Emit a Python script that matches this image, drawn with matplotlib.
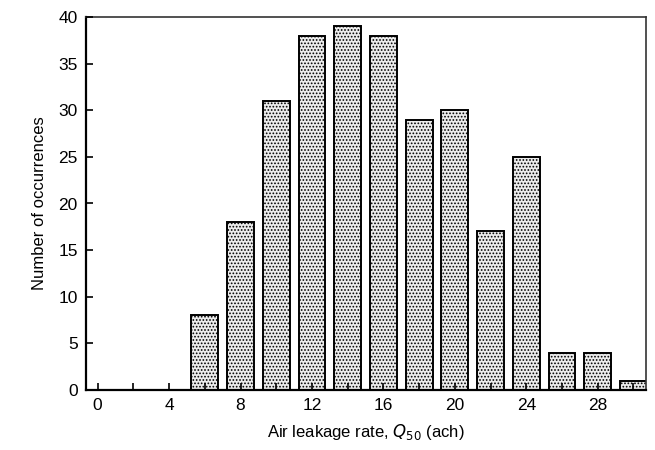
import matplotlib
matplotlib.use('Agg')
import matplotlib.pyplot as plt
import numpy as np

plt.rcParams['font.family'] = ['Liberation Sans', 'DejaVu Sans']
plt.rcParams['hatch.color'] = '#555555'
plt.rcParams['hatch.linewidth'] = 0.8

# bin centres (ach) and counts
rate = [6, 8, 10, 12, 14, 16, 18, 20, 22, 24, 26, 28, 30]
count = [8, 18, 31, 38, 39, 38, 29, 30, 17, 25, 4, 4, 1]

fig = plt.figure(figsize=(6.55, 4.5), dpi=100)
ax = fig.add_axes([86/655, 1 - 390/450, (646-86)/655, (390-17)/450])

ax.bar(rate, count, width=1.5, color='#ececec', edgecolor='black',
       linewidth=1.4, hatch='.....', zorder=2)
ax.set_axisbelow(False)

ax.set_xlim(-0.65, 30.7)
ax.set_ylim(0, 40)
ax.set_xticks(np.arange(0, 29, 4))
ax.set_xticks(np.arange(0, 31, 2), minor=True)
ax.set_yticks(np.arange(0, 41, 5))
ax.tick_params(direction='in', labelsize=12.5, length=5, width=1.2, pad=6)
ax.tick_params(which='minor', direction='in', length=5, width=1.2)
ax.tick_params(axis='x', which='both', top=False)

for s in ['left', 'bottom']:
    ax.spines[s].set_linewidth(1.6)
for s in ['top', 'right']:
    ax.spines[s].set_linewidth(1.2)
    ax.spines[s].set_color('#333333')

ax.set_xlabel('Air leakage rate, $Q_{50}$ (ach)', fontsize=12, labelpad=6)
ax.set_ylabel('Number of occurrences', fontsize=12, labelpad=8)

fig.savefig('out.png', dpi=100)
